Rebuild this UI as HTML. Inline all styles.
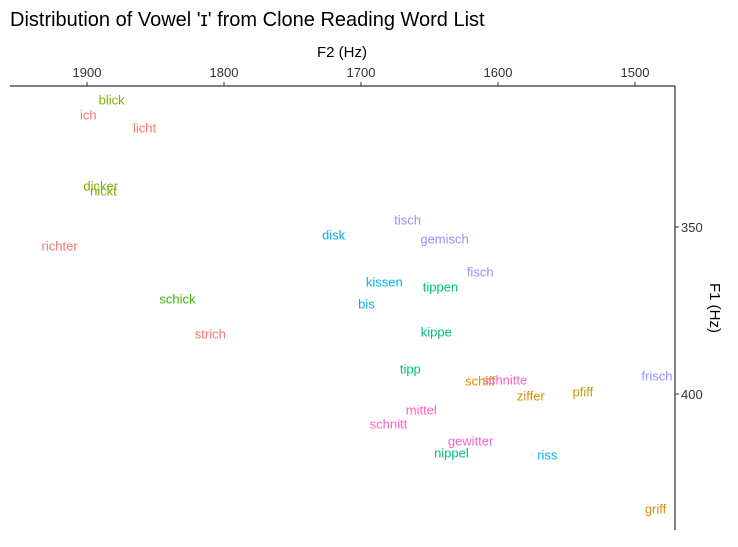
<!DOCTYPE html>
<html><head><meta charset="utf-8"><style>
body{margin:0;background:#fff;font-family:"Liberation Sans","DejaVu Sans",sans-serif}
</style></head><body>
<svg id="c" width="738" height="542" xmlns="http://www.w3.org/2000/svg">
<defs><clipPath id="clip"><rect x="10" y="86" width="665" height="444"/></clipPath></defs>
<text x="10" y="26" font-size="20" fill="#000">Distribution of Vowel 'ɪ' from Clone Reading Word List</text>
<text x="342" y="57" font-size="15" text-anchor="middle" fill="#000">F2 (Hz)</text>
<text transform="translate(710,308) rotate(90)" font-size="15" text-anchor="middle" fill="#000">F1 (Hz)</text>
<line x1="10" y1="86" x2="675" y2="86" stroke="#000"/>
<line x1="675" y1="86" x2="675" y2="530" stroke="#000"/>
<g id="xt"></g><g id="yt"></g><g id="pts" clip-path="url(#clip)"></g>
</svg>
<script>
const words=["blick","ich","licht","dicker","nickt","richter","schick","strich","disk","tisch","gemisch","fisch","kissen","tippen","bis","kippe","tipp","schiff","schnitte","ziffer","pfiff","frisch","mittel","schnitt","gewitter","nippel","riss","griff"];
const f2=[1882,1899,1858,1890,1888,1920,1834,1810,1720,1666,1639,1613,1683,1642,1696,1645,1664,1613,1595,1576,1538,1484,1656,1680,1620,1634,1564,1485];
const f1=[312,316.5,320.4,337.7,339.2,355.7,371.6,382,352.4,347.9,353.6,363.5,366.5,368,373.1,381.4,392.5,396.1,395.8,400.6,399.4,394.6,404.8,409,414.1,417.7,418.3,434.4];
const colors=["#7CAE00","#F8766D","#F8766D","#7CAE00","#7CAE00","#F8766D","#39B600","#F8766D","#00B0F6","#9590FF","#9590FF","#9590FF","#00B0F6","#00BF7D","#00B0F6","#00BF7D","#00BF7D","#D39200","#FF61C3","#D39200","#C49A00","#9590FF","#FF61C3","#FF61C3","#FF61C3","#00BF7D","#00B0F6","#D39200"];
const xTicks=[1900,1800,1700,1600,1500];
const yTicks=[350,400];
const NS="http://www.w3.org/2000/svg";
function xs(v){return 87+(1900-v)*1.37;}
function ys(v){return 227+(v-350)*3.34;}
const xt=document.getElementById('xt'),yt=document.getElementById('yt'),pts=document.getElementById('pts');
xTicks.forEach(t=>{
 const l=document.createElementNS(NS,'line');
 l.setAttribute('x1',xs(t));l.setAttribute('x2',xs(t));l.setAttribute('y1',82);l.setAttribute('y2',86);l.setAttribute('stroke','#333');
 
 
 xt.appendChild(l);
 const s=document.createElementNS(NS,'text');
 s.setAttribute('x',xs(t));s.setAttribute('y',77);s.setAttribute('text-anchor','middle');s.setAttribute('font-size','13');s.setAttribute('fill','#333');
 s.textContent=t;
 
 
 xt.appendChild(s);
});
yTicks.forEach(t=>{
 const l=document.createElementNS(NS,'line');
 l.setAttribute('x1',675);l.setAttribute('x2',679);l.setAttribute('y1',ys(t));l.setAttribute('y2',ys(t));l.setAttribute('stroke','#333');
 
 
 yt.appendChild(l);
 const s=document.createElementNS(NS,'text');
 s.setAttribute('x',681);s.setAttribute('y',ys(t)+5);s.setAttribute('font-size','13');s.setAttribute('fill','#333');
 s.textContent=t;
 
 
 yt.appendChild(s);
});
words.forEach((w,i)=>{
 const s=document.createElementNS(NS,'text');
 s.setAttribute('x',xs(f2[i]));s.setAttribute('y',ys(f1[i])+4.5);s.setAttribute('text-anchor','middle');s.setAttribute('font-size','13');s.setAttribute('fill',colors[i]);
 s.textContent=w;
 
 
 pts.appendChild(s);
});
</script>
</body></html>
